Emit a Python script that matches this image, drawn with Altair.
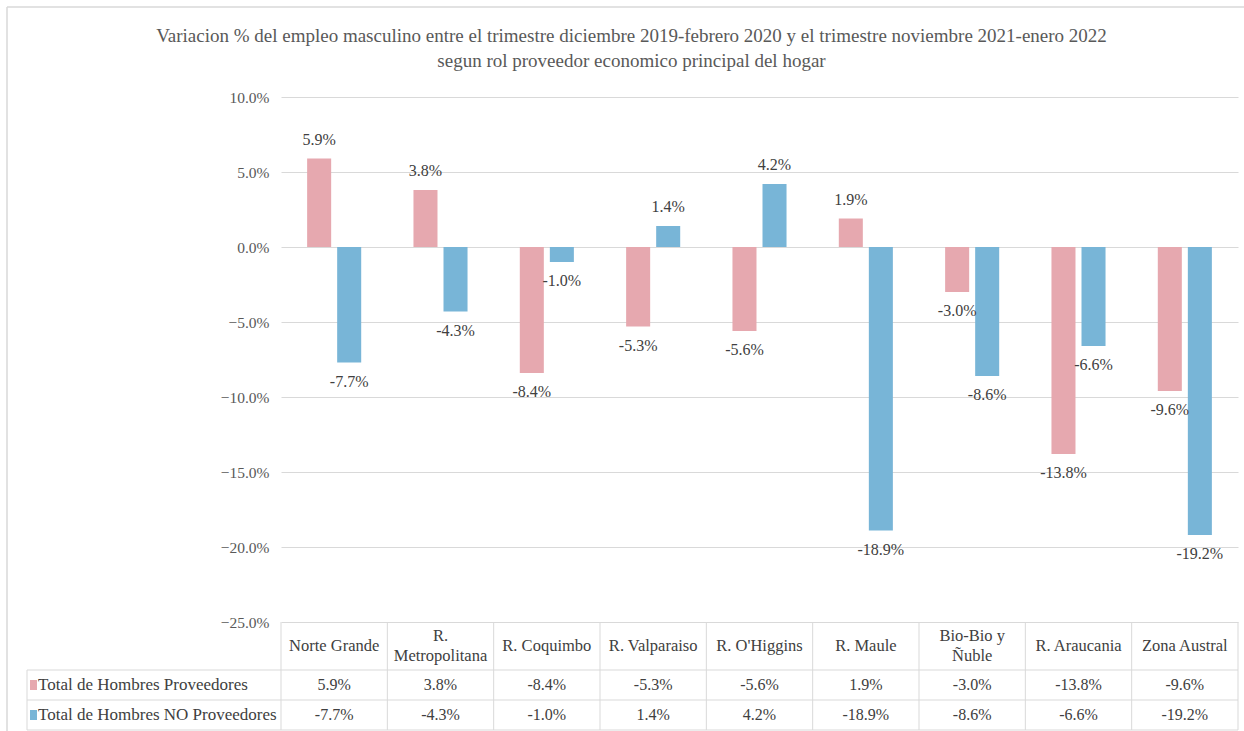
import altair as alt
import pandas as pd

# ---- data -------------------------------------------------------------
regions = ["Norte Grande", "R. Metropolitana", "R. Coquimbo", "R. Valparaiso",
           "R. O'Higgins", "R. Maule", "Bio-Bio y Ñuble", "R. Araucania", "Zona Austral"]
region_headers = ["Norte Grande", "R.\nMetropolitana", "R. Coquimbo", "R. Valparaiso",
                  "R. O'Higgins", "R. Maule", "Bio-Bio y\nÑuble", "R. Araucania", "Zona Austral"]
series_names = ["Total de Hombres Proveedores", "Total de Hombres NO Proveedores"]
proveedores = [5.9, 3.8, -8.4, -5.3, -5.6, 1.9, -3.0, -13.8, -9.6]
no_proveedores = [-7.7, -4.3, -1.0, 1.4, 4.2, -18.9, -8.6, -6.6, -19.2]
y_ticks = [10, 5, 0, -5, -10, -15, -20, -25]
title_lines = [
    "Variacion % del empleo masculino entre el trimestre diciembre 2019-febrero 2020 y el trimestre noviembre 2021-enero 2022",
    "segun rol proveedor economico principal del hogar",
]

# ---- styling / layout -------------------------------------------------
series_colors = ["#E6A8AF", "#78B5D7"]
FONT = "Liberation Serif"
W, H = 957, 633          # plot width, plot + table height
PLOT_H = 525             # height of the value area
GRID = "#d9d9d9"
TXT = "#404040"
AXIS_TXT = "#595959"
HEADER_LH = 20           # line height of wrapped column headers
# table rows in row units: header 0-1.6, first series 1.6-2.6, second 2.6-3.6
ROW_LINES = [1.6, 2.6, 3.6]
ROW_CENTERS = [2.1, 3.1]
HEADER_CENTER = 0.8

values = {series_names[0]: proveedores, series_names[1]: no_proveedores}
rows = []
for s_i, s in enumerate(series_names):
    for r, v in zip(regions, values[s]):
        rows.append({"region": r, "series": s, "value": v,
                     "label": f"{v:.1f}%", "row": ROW_CENTERS[s_i]})
df = pd.DataFrame(rows)

header_df = pd.DataFrame({"region": regions, "header": region_headers,
                          "row": [HEADER_CENTER] * len(regions)})
header_df["wrapped"] = header_df["header"].str.contains("\n")
legend_df = pd.DataFrame({"series": series_names, "row": ROW_CENTERS})
hlines_df = pd.DataFrame({"row": ROW_LINES})
vlines_df = pd.DataFrame({"region": regions, "top": 0.0, "bottom": ROW_LINES[-1]})

band = alt.Scale(domain=regions, paddingInner=0, paddingOuter=0)
x_enc = alt.X("region:N", sort=regions, scale=band, axis=None)
xo_enc = alt.XOffset("series:N", sort=series_names,
                     scale=alt.Scale(domain=series_names, paddingInner=0.2, paddingOuter=0.87))
val_scale = alt.Scale(domain=[-25, 10], range=[PLOT_H, 0], nice=False, zero=False)
row_scale = alt.Scale(domain=[0, ROW_LINES[-1]], range=[PLOT_H, H], nice=False, zero=False)
color_enc = alt.Color("series:N", scale=alt.Scale(domain=series_names, range=series_colors),
                      legend=None)

# ---- bars and value labels ------------------------------------------
bars = alt.Chart(df).mark_bar().encode(
    x=x_enc, xOffset=xo_enc,
    y=alt.Y("value:Q", scale=val_scale,
            axis=alt.Axis(values=y_ticks, labelExpr="format(datum.value, '.1f') + '%'",
                          ticks=False, domain=False, grid=True, gridColor=GRID,
                          labelFont=FONT, labelFontSize=15.5, labelColor=AXIS_TXT,
                          labelPadding=12, title=None)),
    y2=alt.datum(0),
    color=color_enc,
)

label_base = alt.Chart(df).encode(
    x=x_enc, xOffset=xo_enc,
    y=alt.Y("value:Q", scale=val_scale),
    text="label:N",
)
pos_labels = label_base.transform_filter("datum.value >= 0").mark_text(
    dy=-19, font=FONT, fontSize=16, color=TXT, baseline="middle")
neg_labels = label_base.transform_filter("datum.value < 0").mark_text(
    dy=19, font=FONT, fontSize=16, color=TXT, baseline="middle")

value_area = alt.layer(bars, pos_labels, neg_labels)

# ---- data table under the bars ---------------------------------------
row_y = alt.Y("row:Q", scale=row_scale, axis=None)

header_single = alt.Chart(header_df).transform_filter("!datum.wrapped").mark_text(
    font=FONT, fontSize=16.5, color=TXT, baseline="middle"
).encode(x=x_enc, y=row_y, text="header:N")

header_wrapped = alt.Chart(header_df).transform_filter("datum.wrapped").mark_text(
    font=FONT, fontSize=16.5, color=TXT, baseline="middle", lineBreak="\n",
    lineHeight=HEADER_LH, dy=-HEADER_LH / 2
).encode(x=x_enc, y=row_y, text="header:N")

cell_text = alt.Chart(df).mark_text(
    font=FONT, fontSize=16, color=TXT, baseline="middle"
).encode(x=x_enc, y=row_y, text="label:N")

legend_text = alt.Chart(legend_df).mark_text(
    font=FONT, fontSize=17, color=TXT, baseline="middle", align="left"
).encode(x=alt.value(-243), y=row_y, text="series:N")

legend_keys = alt.Chart(legend_df).mark_point(
    shape="M-0.7,-1L0.7,-1L0.7,1L-0.7,1Z", filled=True, opacity=1, size=100
).encode(x=alt.value(-247.5), y=row_y, color=color_enc)

hlines = alt.Chart(hlines_df).mark_rule(color=GRID, strokeWidth=1).encode(
    y=row_y, x=alt.value(-254), x2=alt.value(W))

vlines = alt.Chart(vlines_df).mark_rule(color=GRID, strokeWidth=1).encode(
    x=alt.X("region:N", sort=regions, scale=band, axis=None, bandPosition=0),
    y=alt.Y("top:Q", scale=row_scale, axis=None), y2="bottom:Q")

vline_end = alt.Chart(vlines_df.tail(1)).mark_rule(color=GRID, strokeWidth=1).encode(
    x=alt.X("region:N", sort=regions, scale=band, axis=None, bandPosition=1),
    y=alt.Y("top:Q", scale=row_scale, axis=None), y2="bottom:Q")

legend_edge = alt.Chart(hlines_df.head(1)).mark_rule(color=GRID, strokeWidth=1).encode(
    x=alt.value(-254), y=row_y, y2=alt.datum(ROW_LINES[-1]))

table = alt.layer(hlines, vlines, vline_end, legend_edge,
                  header_single, header_wrapped, cell_text, legend_keys, legend_text)

# ---- chart frame and the tail of the page heading above it -----------
frame_top = alt.Chart(hlines_df.head(1)).mark_rule(color=GRID, strokeWidth=1.5).encode(
    x=alt.value(-274), x2=alt.value(W + 6), y=alt.value(-90))
frame_left = alt.Chart(hlines_df.head(1)).mark_rule(color=GRID, strokeWidth=1.5).encode(
    x=alt.value(-274), y=alt.value(-90), y2=alt.value(H + 1))
heading_tail = alt.Chart(hlines_df.head(1)).mark_text(
    text="g", font="Liberation Sans", fontSize=36, color="#262626", baseline="alphabetic"
).encode(x=alt.value(324), y=alt.value(-107))

chart = alt.layer(value_area, table, frame_top, frame_left, heading_tail).resolve_scale(
    y="independent"
).properties(
    width=W, height=H,
    title=alt.Title(title_lines, anchor="middle", frame="group", dx=-128, dy=114,
                    font=FONT, fontSize=19, fontWeight="normal", color=AXIS_TXT,
                    lineHeight=25),
    autosize=alt.AutoSizeParams(type="none"),
    padding={"left": 281, "top": 97, "right": 6, "bottom": 1},
    background="white",
).configure_view(stroke=None)

chart.save("out.html", embed_options={"renderer": "svg", "actions": False})
